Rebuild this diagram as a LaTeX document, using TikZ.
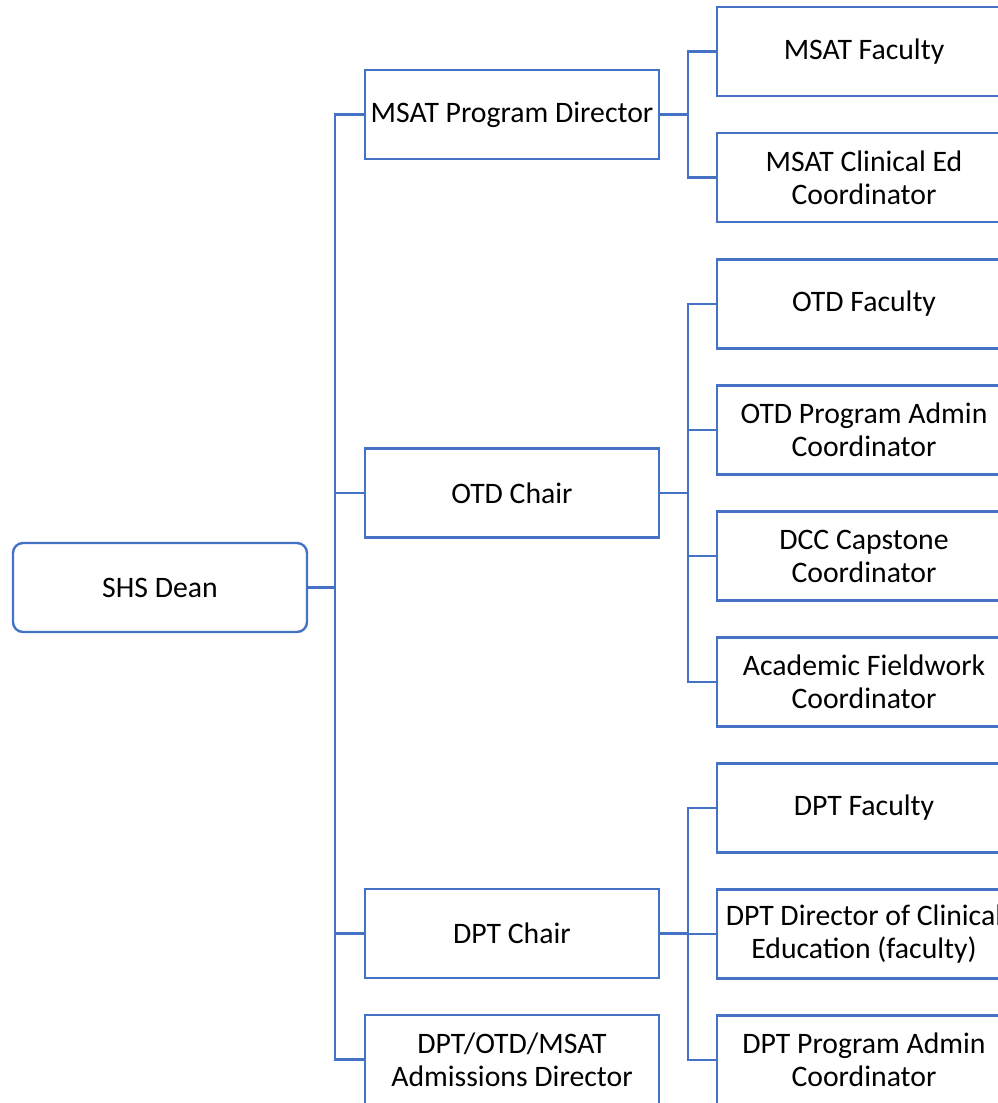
\documentclass[tikz,border=0pt]{standalone}
\usepackage{fontspec}
\setmainfont{Carlito}
\definecolor{orgblue}{HTML}{4472C4}
\begin{document}
\begin{tikzpicture}[x=0.75pt,y=-0.75pt,
  box/.style={draw=orgblue,line width=1.8pt,fill=white,minimum width=220.5pt,minimum height=66.75pt,
    align=center,inner sep=0pt,font=\fontsize{22.3}{24.75}\selectfont,text=black},
  rbox/.style={box,rounded corners=7.5pt},
  conn/.style={draw=orgblue,line width=2.1pt}]
\useasboundingbox (0,0) rectangle (998,1103);
\clip (0,0) rectangle (998,1103);
% level 1
\node[rbox] (dean) at (160,587.5) {SHS Dean};
% level 2
\node[box] (msat) at (512,114.5) {MSAT Program Director};
\node[box] (otd) at (512,493) {OTD Chair};
\node[box] (dpt) at (512,933.5) {DPT Chair};
\node[box] (adm) at (512,1059.5) {DPT/OTD/MSAT\\Admissions Director};
% level 3
\node[box] (msatfac) at (864,51.5) {MSAT Faculty};
\node[box] (msatce) at (864,177.5) {MSAT Clinical Ed\\Coordinator};
\node[box] (otdfac) at (864,304) {OTD Faculty};
\node[box] (otdadm) at (864,430) {OTD Program Admin\\Coordinator};
\node[box] (dcc) at (864,556) {DCC Capstone\\Coordinator};
\node[box] (afc) at (864,682) {Academic Fieldwork\\Coordinator};
\node[box] (dptfac) at (864,808) {DPT Faculty};
\node[box] (dptdce) at (864,934) {DPT Director of Clinical\\Education (faculty)};
\node[box] (dptadm) at (864,1060) {DPT Program Admin\\Coordinator};
% connectors
\coordinate (t) at (335,587.5);
\draw[conn] (dean.east) -- (t);
\foreach \n in {msat,otd,dpt,adm} \draw[conn] (t) |- (\n.west);
\coordinate (m) at (688,114.5);
\draw[conn] (msat.east) -- (m);
\foreach \n in {msatfac,msatce} \draw[conn] (m) |- (\n.west);
\coordinate (o) at (688,493);
\draw[conn] (otd.east) -- (o);
\foreach \n in {otdfac,otdadm,dcc,afc} \draw[conn] (o) |- (\n.west);
\coordinate (d) at (688,933.5);
\draw[conn] (dpt.east) -- (d);
\foreach \n in {dptfac,dptdce,dptadm} \draw[conn] (d) |- (\n.west);
\end{tikzpicture}
\end{document}
